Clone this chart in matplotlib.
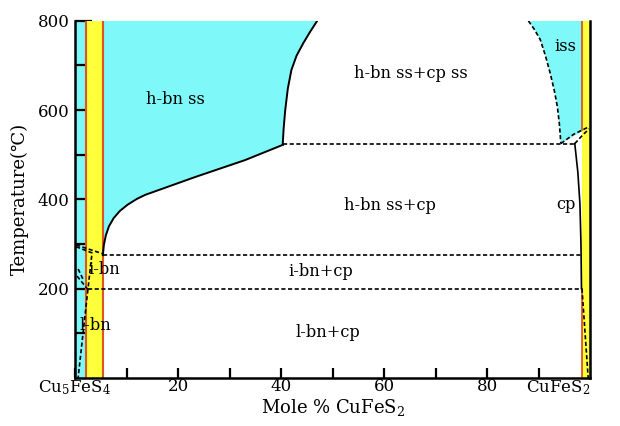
import numpy as np
import matplotlib
matplotlib.use("Agg")
import matplotlib.pyplot as plt

plt.rcParams['font.family'] = ['DejaVu Serif', 'DejaVu Sans']
plt.rcParams['mathtext.fontset'] = 'dejavuserif'

CYAN = "#7ef8f8"
YELLOW = "#ffff3c"
RED = "#dc5522"

# phase boundaries (mole % CuFeS2, temperature C)
hbn_lower_x = [5.4, 5.6, 6.0, 6.6, 7.5, 8.7, 10.2, 12.0, 13.6, 23.3, 33.0, 40.3]
hbn_lower_t = [275, 298, 320, 340, 358, 374, 388, 401, 410, 450, 488, 522]
hbn_upper_x = [40.3, 40.5, 40.8, 41.3, 42.0, 43.0, 44.3, 45.6, 47.0]
hbn_upper_t = [522, 560, 600, 648, 690, 722, 750, 775, 800]
iss_x = [88.0, 89.2, 90.3, 91.3, 92.2, 93.0, 93.6, 94.0, 94.3]
iss_t = [800, 780, 758, 722, 684, 645, 609, 570, 525]
cp_x = [97.0, 97.6, 98.0, 98.2, 98.3]
cp_t = [525, 460, 390, 300, 200]

# composition bands
left_strip = (0, 2.1)
bn_band = (2.1, 5.4)
cp_band = (98.4, 100)

# isotherms
t_upper = 525
t_mid = 275
t_low = 200

labels = [
    ("h-bn ss", 19.4, 623),
    ("h-bn ss+cp ss", 65.2, 682),
    ("iss", 95.1, 742),
    ("h-bn ss+cp", 61.2, 386),
    ("cp", 95.3, 389),
    ("i-bn", 5.6, 242),
    ("i-bn+cp", 47.6, 238),
    ("l-bn", 3.9, 118),
    ("l-bn+cp", 49.1, 102),
]

fig = plt.figure(figsize=(6.2, 4.26), dpi=100)
ax = fig.add_axes([0.121, 0.113, 0.831, 0.838])
ax.set_xlim(0, 100)
ax.set_ylim(0, 800)

# cyan fields
ax.axvspan(*left_strip, color=CYAN, lw=0, zorder=1)
px = [5.4] + hbn_lower_x + hbn_upper_x[1:] + [5.4]
pt = [800] + hbn_lower_t + hbn_upper_t[1:] + [800]
ax.fill(px, pt, color=CYAN, lw=0, zorder=1)
ix = iss_x + [96.5, 98.4, 98.4]
it = iss_t + [540, 552, 800]
ax.fill(ix, it, color=CYAN, lw=0, zorder=1)

# yellow bands with red edges
for b in (bn_band, cp_band):
    ax.axvspan(*b, color=YELLOW, lw=0, zorder=2)
for xv in bn_band:
    ax.axvline(xv, color=RED, lw=1.5, zorder=3)
ax.plot([cp_band[0], cp_band[0]], [555, 800], color=RED, lw=1.3, zorder=3)
ax.plot([cp_band[0], cp_band[0]], [0, 200], color=RED, lw=1.3, zorder=3)

# solid boundaries
ax.plot(hbn_lower_x, hbn_lower_t, color="black", lw=1.4, zorder=4)
ax.plot(hbn_upper_x, hbn_upper_t, color="black", lw=1.4, zorder=4)
ax.plot(cp_x, cp_t, color="black", lw=1.2, zorder=4)

# dashed boundaries
dash = dict(color="black", lw=1.2, ls=(0, (2.5, 1.5)), zorder=4)
ax.plot(iss_x, iss_t, **dash)
ax.plot([40.3, 97.0], [t_upper, t_upper], **dash)
ax.plot([5.4, 98.3], [t_mid, t_mid], **dash)
ax.plot([2.5, 98.3], [t_low, t_low], **dash)
ax.plot([94.3, 96.8, 99.8], [525, 546, 563], **dash)
ax.plot([97.0, 98.6, 99.8], [525, 545, 558], **dash)
ax.plot([98.4, 99.6], [200, 0], **dash)
ax.plot([0.2, 5.4], [298, 278], **dash)
ax.plot([0.2, 3.3, 2.5], [294, 280, 198], **dash)
ax.plot([0.4, 2.5], [228, 198], **dash)
ax.plot([0.6, 1.6], [244, 220], **dash)
ax.plot([2.5, 0.6], [198, 0], **dash)

for txt, x, y in labels:
    ax.text(x, y, txt, ha="center", va="center", fontsize=11.7, zorder=6)

# axes styling
ax.spines["top"].set_visible(False)
for s in ("left", "bottom", "right"):
    ax.spines[s].set_linewidth(1.8)
    ax.spines[s].set_zorder(7)

ax.set_xticks([0, 20, 40, 60, 80, 100])
ax.set_xticklabels(["Cu$_5$FeS$_4$", "20", "40", "60", "80", "CuFeS$_2$"])
ax.set_xticks([10, 30, 50, 70, 90], minor=True)
ax.set_yticks([200, 400, 600, 800])
ax.set_yticks([100, 300, 500, 700], minor=True)
ax.tick_params(axis="x", which="both", direction="in", length=7, width=1.6,
               labelsize=12, pad=0, top=False)
ax.tick_params(axis="y", which="both", direction="in", length=12, width=1.6,
               labelsize=12, pad=4, right=False)
xl = ax.get_xticklabels()
xl[-1].set_horizontalalignment("right")
xl[-1].set_x(100)
for t in ax.get_xticklabels() + ax.get_yticklabels():
    t.set_zorder(8)

ax.set_xlabel("Mole % CuFeS$_2$", fontsize=13, labelpad=0)
ax.set_ylabel("Temperature(\u2103)", fontsize=13, labelpad=6)

fig.savefig("out.png", dpi=100)
